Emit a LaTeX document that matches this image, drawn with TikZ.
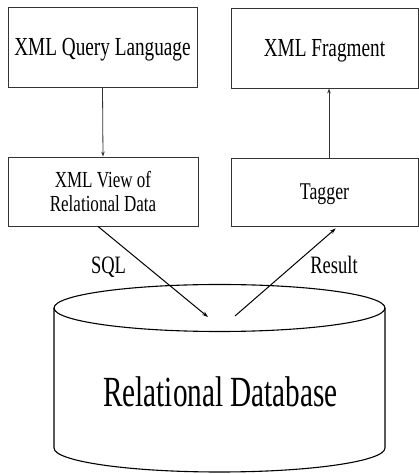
\documentclass[tikz,border=0pt]{standalone}
\usepackage{fontspec}
\setmainfont{Liberation Serif}
\newfontfamily\narrowfont[FakeStretch=0.74]{Liberation Serif}
\newfontfamily\dbfont[FakeStretch=0.68]{Liberation Serif}
\usetikzlibrary{arrows.meta}

\tikzset{
  layerbox/.style={draw=black!80, line width=0.9pt, rectangle, inner sep=0pt,
    font=\fontsize{26}{28}\selectfont\narrowfont, text height=17.4pt, text depth=0pt},
  flow/.style={line width=1pt, -{Stealth[length=6pt,width=4pt]}},
  thinflow/.style={draw=black!80, line width=0.8pt, -{Stealth[length=5pt,width=3.5pt]}},
  edgelabel/.style={inner sep=0pt, anchor=base, font=\fontsize{25}{27}\selectfont\narrowfont},
  dbline/.style={line width=1.1pt}
}

\begin{document}
\begin{tikzpicture}[x=1pt,y=1pt]
  \useasboundingbox (0,0) rectangle (419,474);

  % upper row
  \node[layerbox, minimum width=189pt, minimum height=80pt] (query) at (102.5,427) {XML Query Language};
  \node[layerbox, minimum width=187pt, minimum height=80pt] (frag) at (324.5,426) {XML Fragment};

  % middle row
  \node[layerbox, minimum width=190pt, minimum height=69pt, align=center,
        font=\fontsize{23}{24}\selectfont\narrowfont, text height=, text depth=] (view) at (103,282.5)
        {XML View of\\Relational Data};
  \node[layerbox, minimum width=187pt, minimum height=68pt,
        font=\fontsize{24}{26}\selectfont\narrowfont, text height=16pt] (tagger) at (324.5,282) {Tagger};

  % database cylinder
  \draw[dbline] (219.5,166) ellipse [x radius=165.5, y radius=23.5];
  \draw[dbline] (54,166) -- (54,26) arc[start angle=180, end angle=360, x radius=165.5, y radius=24] -- (385,166);
  \node[inner sep=0pt, anchor=base, font=\fontsize{43}{46}\selectfont\dbfont] (db) at (220.5,67.3) {Relational Database};

  \coordinate (sqlin) at (208,157);
  \coordinate (resout) at (235,158);

  % connectors
  \draw[thinflow] (query.south) -- (view.north);
  \draw[thinflow] ([xshift=4.5pt]tagger.north) -- ([xshift=4.5pt]frag.south);
  \draw[flow] ([xshift=-5pt]view.south) -- (sqlin);
  \draw[flow, shorten >=3pt] (resout) -- ([xshift=13.5pt]tagger.south);

  % connector labels
  \node[edgelabel] (sql) at (108.5,200) {SQL};
  \node[edgelabel] (result) at (334,200) {Result};
\end{tikzpicture}
\end{document}
